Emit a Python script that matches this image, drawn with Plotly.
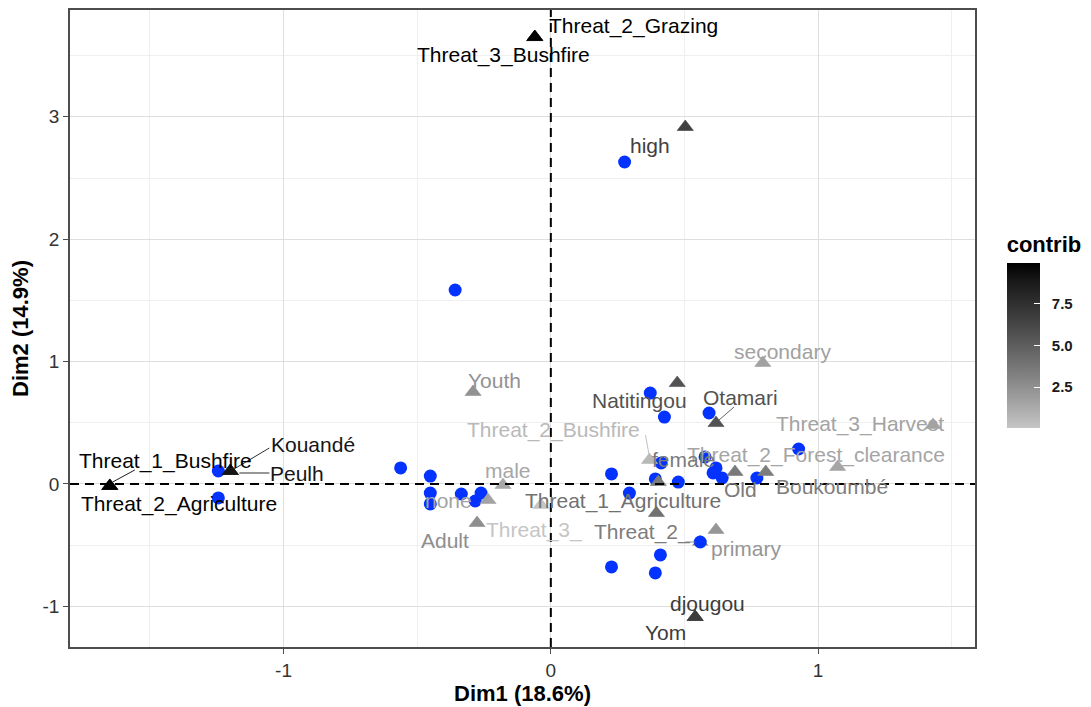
import plotly.graph_objects as go
from plotly.colors import sample_colorscale

# ---------------- data ----------------
ind_x = [0.276, -0.358, -1.244, -1.244, -0.562, -0.451, -0.451, -0.451, -0.335, -0.283,
         -0.261, 0.227, 0.294, 0.372, 0.425, 0.592, 0.413, 0.391, 0.477, 0.577,
         0.618, 0.607, 0.641, 0.771, 0.927, 0.559, 0.410, 0.227, 0.391]
ind_y = [2.631, 1.585, 0.106, -0.114, 0.131, 0.065, -0.074, -0.163, -0.082, -0.139,
         -0.074, 0.082, -0.074, 0.743, 0.547, 0.580, 0.172, 0.041, 0.016, 0.221,
         0.131, 0.090, 0.049, 0.049, 0.286, -0.474, -0.580, -0.678, -0.727]

var_names = ["Threat_2_Grazing", "Threat_3_Bushfire", "high", "Threat_1_Bushfire",
             "Threat_2_Agriculture", "Kouandé", "Peulh", "secondary", "Youth",
             "Natitingou", "Otamari", "Threat_3_Harvest", "Threat_2_Forest_clearance",
             "Threat_2_Bushfire", "female", "Threat_1_Agriculture", "Old", "Boukoumbé",
             "primary", "Threat_2_", "Threat_3_", "male", "none", "Adult", "djougou", "Yom"]
var_x = [-0.060, -0.060, 0.503, -1.650, -1.650, -1.199, -1.199, 0.793, -0.291,
         0.473, 0.618, 1.430, 1.073, 0.369, 0.402, 0.395, 0.689, 0.804,
         0.618, 0.559, -0.037, -0.179, -0.235, -0.276, 0.540, 0.540]
var_y = [3.652, 3.652, 2.917, -0.016, -0.016, 0.106, 0.106, 0.989, 0.752,
         0.825, 0.498, 0.482, 0.139, 0.196, 0.016, -0.237, 0.098, 0.098,
         -0.376, -0.474, -0.172, -0.008, -0.131, -0.319, -1.087, -1.087]
var_contrib = [9.95, 9.95, 6.6, 9.8, 9.8, 9.0, 9.0, 1.7, 2.4,
               5.6, 5.6, 1.6, 1.5, 0.6, 3.5, 4.0, 3.6, 3.4,
               2.2, 3.4, 0.05, 1.4, 1.6, 2.6, 6.8, 6.8]

cbar_ticks = [2.5, 5.0, 7.5]
cbar_ticktext = ["2.5", "5.0", "7.5"]
x_title = "Dim1 (18.6%)"
y_title = "Dim2 (14.9%)"

# ---------------- styling / layout helpers ----------------
def lab_gray(L):
    fy = (L + 16) / 116
    Y = fy ** 3 if fy ** 3 > 0.008856 else (L / 903.3)
    v = 1.055 * Y ** (1 / 2.4) - 0.055 if Y > 0.0031308 else 12.92 * Y
    g = int(round(max(0, min(1, v)) * 255))
    return f"rgb({g},{g},{g})"

L_LOW = 79.5
gray_scale = [[i / 10, lab_gray(L_LOW * (1 - i / 10))] for i in range(11)]
cmin, cmax = min(var_contrib), max(var_contrib)

def col_of(v):
    t = (v - cmin) / (cmax - cmin)
    return sample_colorscale(gray_scale, [t])[0]

# label offsets in screen pixels (dx right, dy down) of label centre from its point
label_off = {
    "Threat_2_Grazing": (99, -11), "Threat_3_Bushfire": (-31, 18), "high": (-35, 18),
    "Threat_1_Bushfire": (56, -25), "Threat_2_Agriculture": (69, 18),
    "Kouandé": (83, -27), "Peulh": (67, 2), "secondary": (20, -11), "Youth": (21, -11),
    "Natitingou": (-38, 17), "Otamari": (24, -26), "Threat_3_Harvest": (-73, -1),
    "Threat_2_Forest_clearance": (-22, -12), "Threat_2_Bushfire": (-96, -30),
    "female": (25, -23), "Threat_1_Agriculture": (-33, -12), "Old": (6, 18),
    "Boukoumbé": (66, 15), "primary": (30, 18), "Threat_2_": (-58, -10),
    "Threat_3_": (-7, 25), "male": (5, -14), "none": (-40, 0), "Adult": (-32, 17),
    "djougou": (12, -14), "Yom": (-30, 15),
}
# repel segments: (x0, y0, x1, y1) screen-pixel offsets from the point
segments = {
    "Threat_1_Bushfire": (3, -4, 25, -16),
    "Kouandé": (2, -1, 39, -23),
    "Peulh": (9, 2, 39, 2),
    "Otamari": (3, -3, 18, -16),
    "Threat_2_Bushfire": (0, -3, -4, -25),
    "Threat_2_": (-5, 0, -15, 0),
}
under_points = {"Threat_2_"}

FONT = "Liberation Sans, Arial, Helvetica, sans-serif"

fig = go.Figure()

idx_under = [i for i, n in enumerate(var_names) if n in under_points]
idx_over = [i for i, n in enumerate(var_names) if n not in under_points]

fig.add_trace(go.Scatter(
    x=[var_x[i] for i in idx_under], y=[var_y[i] for i in idx_under], mode="markers",
    marker=dict(symbol="triangle-up", size=14, color=[var_contrib[i] for i in idx_under],
                colorscale=gray_scale, cmin=cmin, cmax=cmax, showscale=False, line=dict(width=0)),
    hoverinfo="skip", showlegend=False))

fig.add_trace(go.Scatter(
    x=ind_x, y=ind_y, mode="markers",
    marker=dict(symbol="circle", size=13, color="#0433ff", line=dict(width=0)),
    showlegend=False))

fig.add_trace(go.Scatter(
    x=[var_x[i] for i in idx_over], y=[var_y[i] for i in idx_over], mode="markers",
    text=[var_names[i] for i in idx_over],
    marker=dict(symbol="triangle-up", size=14, color=[var_contrib[i] for i in idx_over],
                colorscale=gray_scale, cmin=cmin, cmax=cmax, line=dict(width=0.6, color=[col_of(var_contrib[i]) for i in idx_over]),
                showscale=True,
                colorbar=dict(
                    title=dict(text="<b>contrib</b>", side="top",
                               font=dict(size=22, color="black", family=FONT)),
                    thickness=33, thicknessmode="pixels", len=195, lenmode="pixels",
                    x=1.035, xanchor="left", xpad=0, y=0.344, yanchor="bottom", ypad=0,
                    tickvals=cbar_ticks,
                    ticktext=[f"\u00a0\u00a0<b>{t}</b>" for t in cbar_ticktext],
                    ticks="inside", ticklen=6, tickcolor="white", tickwidth=1,
                    tickfont=dict(size=15, color="#1a1a1a", family=FONT),
                    outlinewidth=0)),
    showlegend=False))

annotations = []
shapes = []
for n, x, y, c in zip(var_names, var_x, var_y, var_contrib):
    colr = col_of(c)
    dx, dy = label_off[n]
    annotations.append(dict(x=x, y=y, xref="x", yref="y", text=n, showarrow=False,
                            xshift=dx, yshift=-dy,
                            font=dict(size=21, color=colr, family=FONT)))
    if n in segments:
        x0, y0, x1, y1 = segments[n]
        shapes.append(dict(type="line", xref="x", yref="y", xsizemode="pixel",
                           ysizemode="pixel", xanchor=x, yanchor=y,
                           x0=x0, x1=x1, y0=-y0, y1=-y1,
                           line=dict(color=colr, width=0.9)))

# dashed reference lines at 0
shapes.append(dict(type="line", xref="x", yref="paper", x0=0, x1=0, y0=0, y1=1,
                   line=dict(color="black", width=2, dash="9px,6px"), layer="above"))
shapes.append(dict(type="line", xref="paper", yref="y", x0=0, x1=1, y0=0, y1=0,
                   line=dict(color="black", width=2, dash="9px,6px"), layer="above"))

axis_common = dict(showline=True, mirror=True, linecolor="#4d4d4d", linewidth=1.5,
                   ticks="outside", ticklen=5, tickcolor="#4d4d4d", tickwidth=1,
                   showgrid=True, gridcolor="#dedede", gridwidth=1, zeroline=False,
                   automargin=False,
                   tickfont=dict(size=19, color="#333333", family=FONT),
                   minor=dict(dtick=0.5, showgrid=True, gridcolor="#efefef", gridwidth=0.8))

fig.update_xaxes(range=[-1.799, 1.587], tickvals=[-1, 0, 1], ticktext=["-1", "0", "1"],
                 title=dict(text=f"<b>{x_title}</b>", font=dict(size=22, color="black", family=FONT),
                            standoff=3),
                 **axis_common)
fig.update_yaxes(range=[-1.332, 3.873], tickvals=[-1, 0, 1, 2, 3],
                 ticktext=["-1", "0", "1", "2", "3"],
                 title=dict(text=f"<b>{y_title}</b>", font=dict(size=22, color="black", family=FONT),
                            standoff=8),
                 **axis_common)

fig.update_layout(width=1091, height=707, autosize=False,
                  margin=dict(l=70, r=112, t=10, b=60),
                  paper_bgcolor="white", plot_bgcolor="white",
                  annotations=annotations, shapes=shapes,
                  font=dict(family=FONT), showlegend=False)

fig.write_html("out.html", config={"displayModeBar": False},
               post_script="document.body.style.margin='0px';")
